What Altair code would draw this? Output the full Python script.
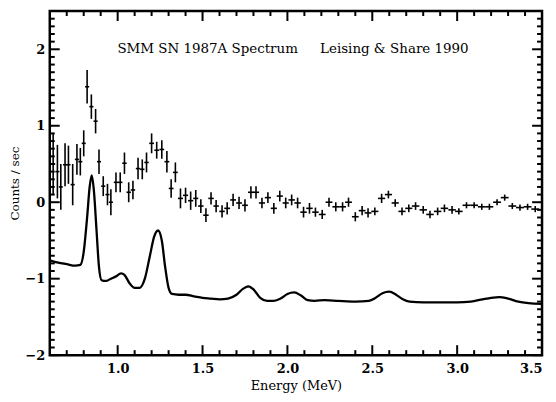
import altair as alt
import pandas as pd

# ---- measured spectrum (Energy MeV, counts/sec, y error, x half-width) ----
pt_x = [0.62, 0.645, 0.665, 0.69, 0.71, 0.735, 0.76, 0.78, 0.80, 0.82, 0.845, 0.87, 0.89, 0.915, 0.94, 0.96,
        0.99, 1.015, 1.04, 1.065, 1.09, 1.12, 1.145, 1.17, 1.20, 1.23, 1.26, 1.29, 1.315, 1.34, 1.37, 1.40,
        1.43, 1.46, 1.49, 1.52, 1.55, 1.58, 1.615, 1.645, 1.68, 1.715, 1.75, 1.785, 1.815, 1.85, 1.885, 1.92,
        1.955, 1.99, 2.025, 2.06, 2.095, 2.13, 2.165, 2.205, 2.245, 2.285, 2.325, 2.36, 2.40, 2.44, 2.475,
        2.515, 2.555, 2.595, 2.635, 2.675, 2.715, 2.755, 2.80, 2.84, 2.885, 2.925, 2.97, 3.01, 3.055, 3.10,
        3.145, 3.19, 3.235, 3.28, 3.325, 3.37, 3.415, 3.46]
pt_y = [0.50, 0.40, 0.20, 0.49, 0.49, 0.23, 0.56, 0.53, 0.77, 1.51, 1.25, 1.06, 0.53, 0.21, 0.10, 0.00,
        0.26, 0.26, 0.51, 0.13, 0.16, 0.44, 0.43, 0.52, 0.77, 0.68, 0.69, 0.53, 0.18, 0.39, 0.05, 0.09,
        0.02, 0.05, -0.05, -0.17, 0.05, -0.05, -0.12, -0.08, 0.03, -0.01, -0.04, 0.13, 0.13, -0.01, 0.06, -0.08,
        0.08, -0.01, 0.03, -0.01, -0.13, -0.08, -0.13, -0.16, 0.00, -0.06, -0.06, 0.00, -0.19, -0.11, -0.14,
        -0.12, 0.05, 0.10, -0.01, -0.12, -0.08, -0.05, -0.10, -0.16, -0.12, -0.08, -0.10, -0.12, -0.04, -0.04,
        -0.06, -0.06, 0.00, 0.06, -0.05, -0.07, -0.06, -0.09]
pt_yerr = [0.40, 0.35, 0.30, 0.28, 0.25, 0.27, 0.20, 0.18, 0.17, 0.22, 0.16, 0.16, 0.16, 0.13, 0.14, 0.17,
           0.13, 0.13, 0.14, 0.13, 0.12, 0.14, 0.13, 0.13, 0.13, 0.11, 0.12, 0.14, 0.12, 0.13, 0.13, 0.10,
           0.12, 0.11, 0.09, 0.09, 0.08, 0.08, 0.08, 0.08, 0.08, 0.08, 0.08, 0.08, 0.08, 0.07, 0.07, 0.07,
           0.07, 0.07, 0.07, 0.07, 0.07, 0.07, 0.06, 0.06, 0.06, 0.06, 0.06, 0.06, 0.06, 0.06, 0.06,
           0.05, 0.06, 0.05, 0.05, 0.05, 0.05, 0.05, 0.05, 0.05, 0.05, 0.05, 0.05, 0.04, 0.04, 0.04,
           0.04, 0.04, 0.04, 0.04, 0.04, 0.04, 0.04, 0.04]
pt_xerr = [0.012] * 16 + [0.013] * 8 + [0.014] * 6 + [0.015] * 4 + [0.016] * 5 + [0.017] * 5 + \
          [0.018] * 6 + [0.019] * 5 + [0.020] * 8 + [0.021] * 6 + [0.022] * 7 + [0.023] * 10

# ---- model spectrum (shifted line) ----
mod_x = [0.60, 0.65, 0.70, 0.75, 0.78, 0.80, 0.82, 0.835, 0.847, 0.86, 0.875, 0.89, 0.905, 0.93, 0.96,
         0.99, 1.02, 1.04, 1.07, 1.10, 1.13, 1.16, 1.19, 1.215, 1.238, 1.26, 1.28, 1.30, 1.32, 1.36, 1.40,
         1.45, 1.50, 1.55, 1.60, 1.65, 1.70, 1.74, 1.77, 1.80, 1.84, 1.88, 1.92, 1.96, 2.00, 2.04, 2.08,
         2.12, 2.16, 2.22, 2.30, 2.40, 2.48, 2.52, 2.56, 2.60, 2.64, 2.68, 2.72, 2.80, 2.90, 3.00, 3.08,
         3.15, 3.20, 3.25, 3.30, 3.36, 3.42, 3.50]
mod_y = [-0.76, -0.79, -0.81, -0.83, -0.82, -0.65, -0.20, 0.20, 0.35, 0.15, -0.35, -0.85, -1.02, -1.03, -1.00,
         -0.97, -0.93, -0.95, -1.06, -1.12, -1.12, -1.00, -0.70, -0.45, -0.37, -0.50, -0.85, -1.12, -1.20, -1.21, -1.21,
         -1.23, -1.25, -1.26, -1.27, -1.26, -1.21, -1.13, -1.10, -1.14, -1.25, -1.29, -1.29, -1.26, -1.20, -1.18, -1.22,
         -1.28, -1.29, -1.28, -1.29, -1.30, -1.29, -1.25, -1.19, -1.17, -1.21, -1.27, -1.30, -1.31, -1.31, -1.31, -1.30,
         -1.27, -1.25, -1.24, -1.26, -1.30, -1.32, -1.33]

# ---- axes ticks / labels ----
x_label_ticks = [1.0, 1.5, 2.0, 2.5, 3.0, 3.5]
x_minor_ticks = [0.7, 0.8, 0.9, 1.1, 1.2, 1.3, 1.4, 1.6, 1.7, 1.8, 1.9, 2.1, 2.2, 2.3, 2.4,
                 2.6, 2.7, 2.8, 2.9, 3.1, 3.2, 3.3, 3.4]
y_label_ticks = [-2, -1, 0, 1, 2]
y_minor_ticks = [-1.9, -1.8, -1.7, -1.6, -1.5, -1.4, -1.3, -1.2, -1.1, -0.9, -0.8, -0.7, -0.6, -0.5,
                 -0.4, -0.3, -0.2, -0.1, 0.1, 0.2, 0.3, 0.4, 0.5, 0.6, 0.7, 0.8, 0.9, 1.1, 1.2, 1.3,
                 1.4, 1.5, 1.6, 1.7, 1.8, 1.9, 2.1, 2.2, 2.3, 2.4]

title_texts = ["SMM SN 1987A Spectrum", "Leising & Share 1990"]
title_x = [1.53, 2.63]
title_y = [2.0, 2.0]

W, H = 495, 346
FONT = "DejaVu Serif"

xs = alt.Scale(domain=[0.6, 3.5], nice=False, zero=False)
ys = alt.Scale(domain=[-2, 2.5], nice=False, zero=False)
x_axis = alt.Axis(values=x_label_ticks, format=".1f", ticks=False, domain=False, grid=False,
                  labelFont=FONT, labelFontSize=13, labelFontWeight="bold", labelColor="black",
                  labelPadding=7, title="Energy (MeV)", titleFont=FONT, titleFontSize=13,
                  titleFontWeight="normal", titleColor="black", titlePadding=5)
y_axis = alt.Axis(values=y_label_ticks, format="d", ticks=False, domain=False, grid=False,
                  labelFont=FONT, labelFontSize=13, labelFontWeight="bold", labelColor="black",
                  labelPadding=5, title="Counts / sec", titleFont=FONT, titleFontSize=12,
                  titleFontWeight="normal", titleColor="black", titlePadding=3)


def X(f):
    return alt.X(f, type="quantitative", scale=xs, axis=x_axis)


def Y(f):
    return alt.Y(f, type="quantitative", scale=ys, axis=y_axis)


pts = pd.DataFrame({"x": pt_x, "y": pt_y, "yerr": pt_yerr, "xerr": pt_xerr})
pts["ylo"] = pts["y"] - pts["yerr"]
pts["yhi"] = pts["y"] + pts["yerr"]
pts["xlo"] = pts["x"] - pts["xerr"]
pts["xhi"] = pts["x"] + pts["xerr"]

model = pd.DataFrame({"x": mod_x, "y": mod_y})

vbars = alt.Chart(pts).mark_rule(color="black", strokeWidth=1.6).encode(
    x=X("x"), y=Y("ylo"), y2="yhi")
hbars = alt.Chart(pts).mark_rule(color="black", strokeWidth=1.6).encode(
    x=X("xlo"), x2="xhi", y=Y("y"))
line = alt.Chart(model).mark_line(color="black", strokeWidth=2.3, interpolate="monotone").encode(
    x=X("x"), y=Y("y"))

xmaj = pd.DataFrame({"v": x_label_ticks})
xmin = pd.DataFrame({"v": x_minor_ticks})
ymaj = pd.DataFrame({"v": y_label_ticks})
ymin = pd.DataFrame({"v": y_minor_ticks})


def xticks(df, y0, y1):
    return alt.Chart(df).mark_rule(color="black", strokeWidth=2).encode(
        x=X("v"), y=alt.value(y0), y2=alt.value(y1))


def yticks(df, x0, x1):
    return alt.Chart(df).mark_rule(color="black", strokeWidth=2).encode(
        y=Y("v"), x=alt.value(x0), x2=alt.value(x1))


ticks = [
    xticks(xmaj, H, H - 10), xticks(xmin, H, H - 5),
    xticks(xmaj, 0, 10), xticks(xmin, 0, 5),
    yticks(ymaj, 0, 10), yticks(ymin, 0, 5),
    yticks(ymaj, W, W - 10), yticks(ymin, W, W - 5),
]

tdf = pd.DataFrame({"t": title_texts, "x": title_x, "y": title_y})
title = alt.Chart(tdf).mark_text(font=FONT, fontSize=13.5, color="black", align="center",
                                 baseline="middle").encode(x=X("x"), y=Y("y"), text="t:N")

chart = alt.layer(line, vbars, hbars, title, *ticks).properties(
    width=W, height=H,
    autosize=alt.AutoSizeParams(type="none"),
    padding={"left": 42, "top": 2, "right": 6, "bottom": 38},
).configure_view(stroke="black", strokeWidth=2.5)

chart.save("out.html", embed_options={"renderer": "svg", "actions": False})
